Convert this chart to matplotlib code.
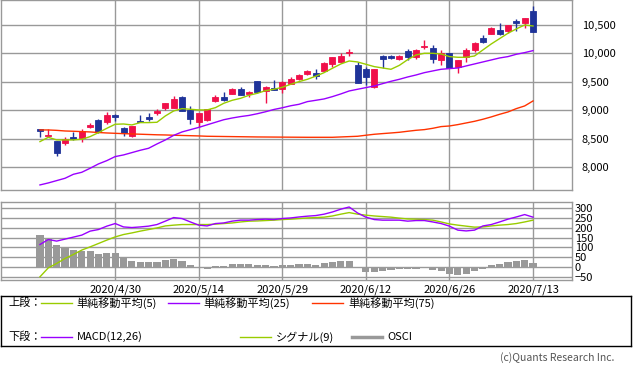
import matplotlib
matplotlib.use("Agg")
import matplotlib.pyplot as plt
import numpy as np

plt.rcParams["font.family"] = ["Noto Sans CJK JP", "DejaVu Sans"]

# daily candles, oldest first
open_ = [8667, 8555, 8462, 8432, 8532, 8509, 8708, 8831, 8796, 8924,
         8684, 8550, 8819, 8878, 8960, 9042, 9047, 9229, 9007, 8790,
         8831, 9165, 9235, 9293, 9375, 9282, 9516, 9340, 9393, 9381,
         9463, 9551, 9639, 9662, 9698, 9821, 9856, 10002, 9797, 9721,
         9416, 9955, 9955, 9897, 10043, 9944, 10108, 10090, 9885, 10002,
         9756, 9944, 10061, 10266, 10348, 10412, 10395, 10570, 10529, 10746]
high = [8672, 8680, 8468, 8538, 8620, 8667, 8772, 8842, 8965, 8930,
        8714, 8728, 8924, 8948, 9030, 9135, 9252, 9252, 9077, 8958,
        9028, 9276, 9323, 9387, 9411, 9340, 9520, 9422, 9534, 9508,
        9580, 9640, 9709, 9721, 9856, 9940, 10002, 10084, 9856, 9768,
        9724, 9973, 9973, 9973, 10072, 10072, 10236, 10149, 10061, 10014,
        9888, 10090, 10207, 10324, 10459, 10529, 10503, 10600, 10620, 10834]
low = [8525, 8540, 8198, 8397, 8480, 8450, 8690, 8608, 8760, 8819,
       8550, 8538, 8788, 8813, 8924, 9007, 9042, 8990, 8755, 8702,
       8819, 9147, 9165, 9288, 9268, 9241, 9311, 9124, 9356, 9311,
       9460, 9533, 9621, 9557, 9690, 9768, 9850, 9955, 9485, 9446,
       9399, 9739, 9897, 9885, 9885, 9908, 10078, 9838, 9797, 9737,
       9662, 9856, 10031, 10190, 10346, 10324, 10354, 10400, 10441, 10377]
close = [8637, 8573, 8257, 8503, 8497, 8637, 8749, 8614, 8924, 8889,
         8602, 8725, 8790, 8843, 8995, 9124, 9194, 8995, 8848, 8954,
         9024, 9241, 9182, 9375, 9270, 9323, 9317, 9411, 9358, 9504,
         9545, 9621, 9692, 9610, 9826, 9938, 9955, 10026, 9487, 9592,
         9721, 9897, 9914, 9955, 9944, 10061, 10131, 9903, 10014, 9739,
         9885, 10061, 10178, 10195, 10441, 10342, 10500, 10535, 10617, 10377]

ma5 = [8450, 8526, 8480, 8480, 8480, 8491, 8538, 8608, 8684, 8755,
       8760, 8743, 8784, 8784, 8790, 8901, 8989, 9030, 9018, 9007,
       9007, 9047, 9124, 9176, 9211, 9264, 9299, 9346, 9370, 9405,
       9457, 9504, 9545, 9600, 9662, 9739, 9815, 9867, 9850, 9809,
       9768, 9744, 9721, 9790, 9890, 9973, 10002, 10002, 9990, 9944,
       9932, 9932, 9955, 10061, 10166, 10260, 10354, 10430, 10500, 10482]
ma25 = [7689, 7724, 7765, 7806, 7876, 7911, 7982, 8058, 8116, 8187,
        8216, 8257, 8298, 8333, 8409, 8479, 8560, 8620, 8660, 8700,
        8745, 8790, 8835, 8865, 8890, 8910, 8940, 8975, 9015, 9045,
        9080, 9106, 9153, 9176, 9200, 9241, 9288, 9340, 9370, 9399,
        9428, 9469, 9510, 9545, 9586, 9621, 9662, 9692, 9721, 9733,
        9744, 9780, 9815, 9850, 9885, 9920, 9944, 9985, 10014, 10049]
ma75 = [8655, 8655, 8648, 8637, 8632, 8626, 8620, 8610, 8602, 8596,
        8590, 8585, 8580, 8575, 8570, 8567, 8562, 8558, 8554, 8550,
        8544, 8542, 8540, 8538, 8536, 8534, 8532, 8531, 8530, 8529,
        8528, 8527, 8526, 8526, 8526, 8526, 8532, 8538, 8544, 8562,
        8579, 8591, 8602, 8614, 8632, 8649, 8661, 8684, 8714, 8725,
        8749, 8778, 8807, 8843, 8884, 8930, 8971, 9030, 9077, 9165]

macd = [115, 140, 132, 142, 152, 162, 182, 190, 207, 220,
        203, 200, 203, 207, 215, 232, 250, 245, 228, 212,
        208, 220, 223, 232, 237, 237, 240, 242, 240, 245,
        248, 253, 257, 260, 267, 278, 292, 303, 273, 252,
        240, 237, 237, 237, 232, 235, 235, 228, 220, 207,
        187, 183, 187, 208, 215, 228, 242, 253, 265, 252]
signal = [-47, -2, 20, 45, 65, 87, 103, 120, 137, 153,
          165, 173, 182, 190, 198, 208, 212, 215, 215, 215,
          215, 217, 220, 223, 228, 232, 233, 235, 237, 240,
          242, 245, 248, 250, 252, 258, 267, 275, 267, 262,
          258, 255, 252, 247, 243, 242, 240, 237, 228, 218,
          212, 207, 202, 203, 208, 212, 215, 220, 228, 237]
osci = [162, 148, 112, 100, 87, 82, 82, 67, 73, 72,
        50, 32, 27, 27, 27, 37, 42, 32, 12, -2,
        -7, 7, 7, 17, 17, 17, 12, 12, 7, 12,
        12, 17, 17, 12, 20, 25, 32, 32, -3, -25,
        -25, -18, -13, -10, -10, -7, -3, -13, -17, -33,
        -38, -33, -17, -10, 12, 17, 27, 32, 37, 22]

date_pos = [9, 19, 29, 39, 49, 59]
date_labels = ["2020/4/30", "2020/5/14", "2020/5/29", "2020/6/12", "2020/6/26", "2020/7/13"]
price_ticks = [8000, 8500, 9000, 9500, 10000, 10500]
osc_ticks = [-50, 0, 50, 100, 150, 200, 250, 300]

UP = "#f0104a"
DOWN = "#1f3399"
C_MA5 = "#99cc00"
C_MA25 = "#9900ff"
C_MA75 = "#ff3300"
GRID = "#999999"

fig = plt.figure(figsize=(6.33, 3.74), dpi=100)
ax = fig.add_axes([0.0016, 0.492, 0.902, 0.5067])
ax2 = fig.add_axes([0.0016, 0.2513, 0.902, 0.2086])
leg = fig.add_axes([0.0008, 0.0749, 0.9968, 0.1337])

x = np.arange(len(close))
xlim = (-4.66, 63.66)

for a in (ax, ax2):
    a.set_xlim(*xlim)
    a.set_xticks(date_pos)
    a.yaxis.tick_right()
    a.tick_params(length=0, labelsize=8)
    a.grid(True, color=GRID, linewidth=1.0)
    a.set_axisbelow(True)
    for s in a.spines.values():
        s.set_color(GRID)
        s.set_linewidth(1.0)

# upper panel: candles + moving averages
o = np.array(open_)
c = np.array(close)
colors = [UP if cc >= oo else DOWN for oo, cc in zip(o, c)]
ax.vlines(x, low, high, colors=colors, linewidth=1.0, zorder=2)
ax.bar(x, np.abs(c - o), bottom=np.minimum(o, c), width=0.72,
       color=colors, edgecolor=colors, linewidth=0.6, zorder=3)
ax.plot(x, ma75, color=C_MA75, linewidth=1.0, zorder=4)
ax.plot(x, ma25, color=C_MA25, linewidth=1.0, zorder=4)
ax.plot(x, ma5, color=C_MA5, linewidth=1.0, zorder=4)
ax.set_ylim(7600, 10930)
ax.set_yticks(price_ticks)
ax.set_yticklabels([f"{v:,}" for v in price_ticks])
ax.tick_params(axis="y", pad=7, labelsize=8)
ax.set_xticklabels([])

# lower panel: MACD
ax2.bar(x, osci, width=0.85, color="#999999", zorder=2)
ax2.plot(x, signal, color=C_MA5, linewidth=1.0, zorder=3)
ax2.plot(x, macd, color=C_MA25, linewidth=1.0, zorder=3)
ax2.set_ylim(-63, 328)
ax2.set_yticks(osc_ticks)
ax2.tick_params(axis="y", pad=2, labelsize=8)
ax2.set_xticklabels(date_labels)
ax2.tick_params(axis="x", pad=3, labelsize=8)

# legend box (pixel coords inside the box)
leg.set_xlim(0, 631)
leg.set_ylim(50, 0)
leg.set_xticks([])
leg.set_yticks([])
for s in leg.spines.values():
    s.set_color("black")
    s.set_linewidth(1.0)

fs = 8
row1, row2 = 7, 41
leg.text(8, row1, "上段：", fontsize=fs, va="center")
leg.plot([40, 71], [row1, row1], color=C_MA5, linewidth=1.0)
leg.text(76, row1, "単純移動平均(5)", fontsize=fs, va="center")
leg.plot([168, 199], [row1, row1], color=C_MA25, linewidth=1.0)
leg.text(203, row1, "単純移動平均(25)", fontsize=fs, va="center")
leg.plot([312, 343], [row1, row1], color=C_MA75, linewidth=1.0)
leg.text(348, row1, "単純移動平均(75)", fontsize=fs, va="center")

leg.text(8, row2, "下段：", fontsize=fs, va="center")
leg.plot([40, 71], [row2, row2], color=C_MA25, linewidth=1.0)
leg.text(76, row2, "MACD(12,26)", fontsize=fs, va="center")
leg.plot([240, 271], [row2, row2], color=C_MA5, linewidth=1.0)
leg.text(275, row2, "シグナル(9)", fontsize=fs, va="center")
leg.plot([352, 382], [row2, row2], color="#999999", linewidth=2.5)
leg.text(387, row2, "OSCI", fontsize=fs, va="center")

fig.text(614 / 633, 1 - 358 / 374, "(c)Quants Research Inc.", fontsize=7.5,
         color="#555555", ha="right", va="center")

fig.savefig("out.png", dpi=100)
